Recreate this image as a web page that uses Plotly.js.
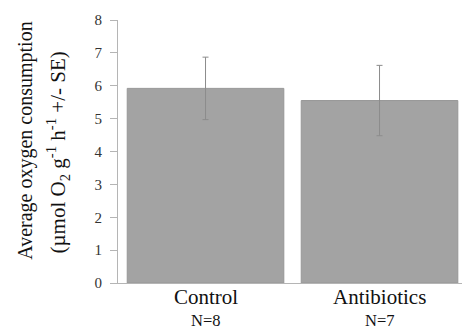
<!DOCTYPE html>
<html>
<head>
<meta charset="utf-8">
<script src="https://cdn.plot.ly/plotly-3.0.1.min.js"></script>
<style>html,body{margin:0;padding:0;background:#fff;}#chart{width:462px;height:329px;}</style>
</head>
<body>
<div id="chart"></div>
<script>
const categories = ["Control", "Antibiotics"];
const sampleSizes = ["N=8", "N=7"];
const means = [5.92, 5.55];
const standardErrors = [0.95, 1.07];
const yTicks = [0, 1, 2, 3, 4, 5, 6, 7, 8];

const trace = {
  type: "bar",
  x: categories,
  y: means,
  marker: { color: "#a3a3a3", line: { color: "#979797", width: 1 } },
  error_y: { type: "data", array: standardErrors, visible: true, color: "#8c8c8c", thickness: 1, width: 3 },
  hoverinfo: "none"
};

const catAnnotations = categories.map(c => ({
  text: c, x: c, xref: "x", y: 0, yref: "paper",
  yanchor: "middle", xanchor: "center", yshift: -14, showarrow: false,
  font: { size: 21, color: "#111" }
}));
const nAnnotations = categories.map((c, i) => ({
  text: sampleSizes[i], x: c, xref: "x", y: 0, yref: "paper",
  yanchor: "middle", xanchor: "center", yshift: -37.5, showarrow: false,
  font: { size: 16.5, color: "#111" }
}));

const layout = {
  width: 462, height: 329,
  margin: { l: 118, r: 0, t: 20, b: 46 },
  paper_bgcolor: "#fff", plot_bgcolor: "#fff",
  showlegend: false,
  bargap: 0.1,
  font: { family: "Liberation Serif, Times New Roman, serif", color: "#222" },
  xaxis: {
    type: "category",
    range: [-0.503, 1.474],
    showticklabels: false,
    ticks: "",
    showline: true, linecolor: "#b5b5b5", linewidth: 1,
    showgrid: false, zeroline: false
  },
  yaxis: {
    range: [0, 8],
    tickmode: "array",
    tickvals: yTicks,
    tickfont: { size: 15, color: "#333" },
    ticks: "outside", ticklen: 7, tickcolor: "#b5b5b5",
    showline: true, linecolor: "#b5b5b5", linewidth: 1,
    showgrid: false, zeroline: false,
    ticklabelstandoff: 5
  },
  annotations: catAnnotations.concat(nAnnotations, [
    { text: "Average oxygen consumption", xref: "paper", yref: "paper",
      x: -0.268, y: 0.54, xanchor: "center", yanchor: "middle", textangle: -90,
      showarrow: false, font: { size: 20, color: "#111" } },
    { text: "(µmol O<sub>2</sub> g<sup>-1</sup> h<sup>-1</sup> +/- SE)", xref: "paper", yref: "paper",
      x: -0.176, y: 0.498, xanchor: "center", yanchor: "middle", textangle: -90,
      showarrow: false, font: { size: 21, color: "#111" } }
  ])
};

Plotly.newPlot("chart", [trace], layout, { displayModeBar: false, staticPlot: true });
</script>
</body>
</html>
